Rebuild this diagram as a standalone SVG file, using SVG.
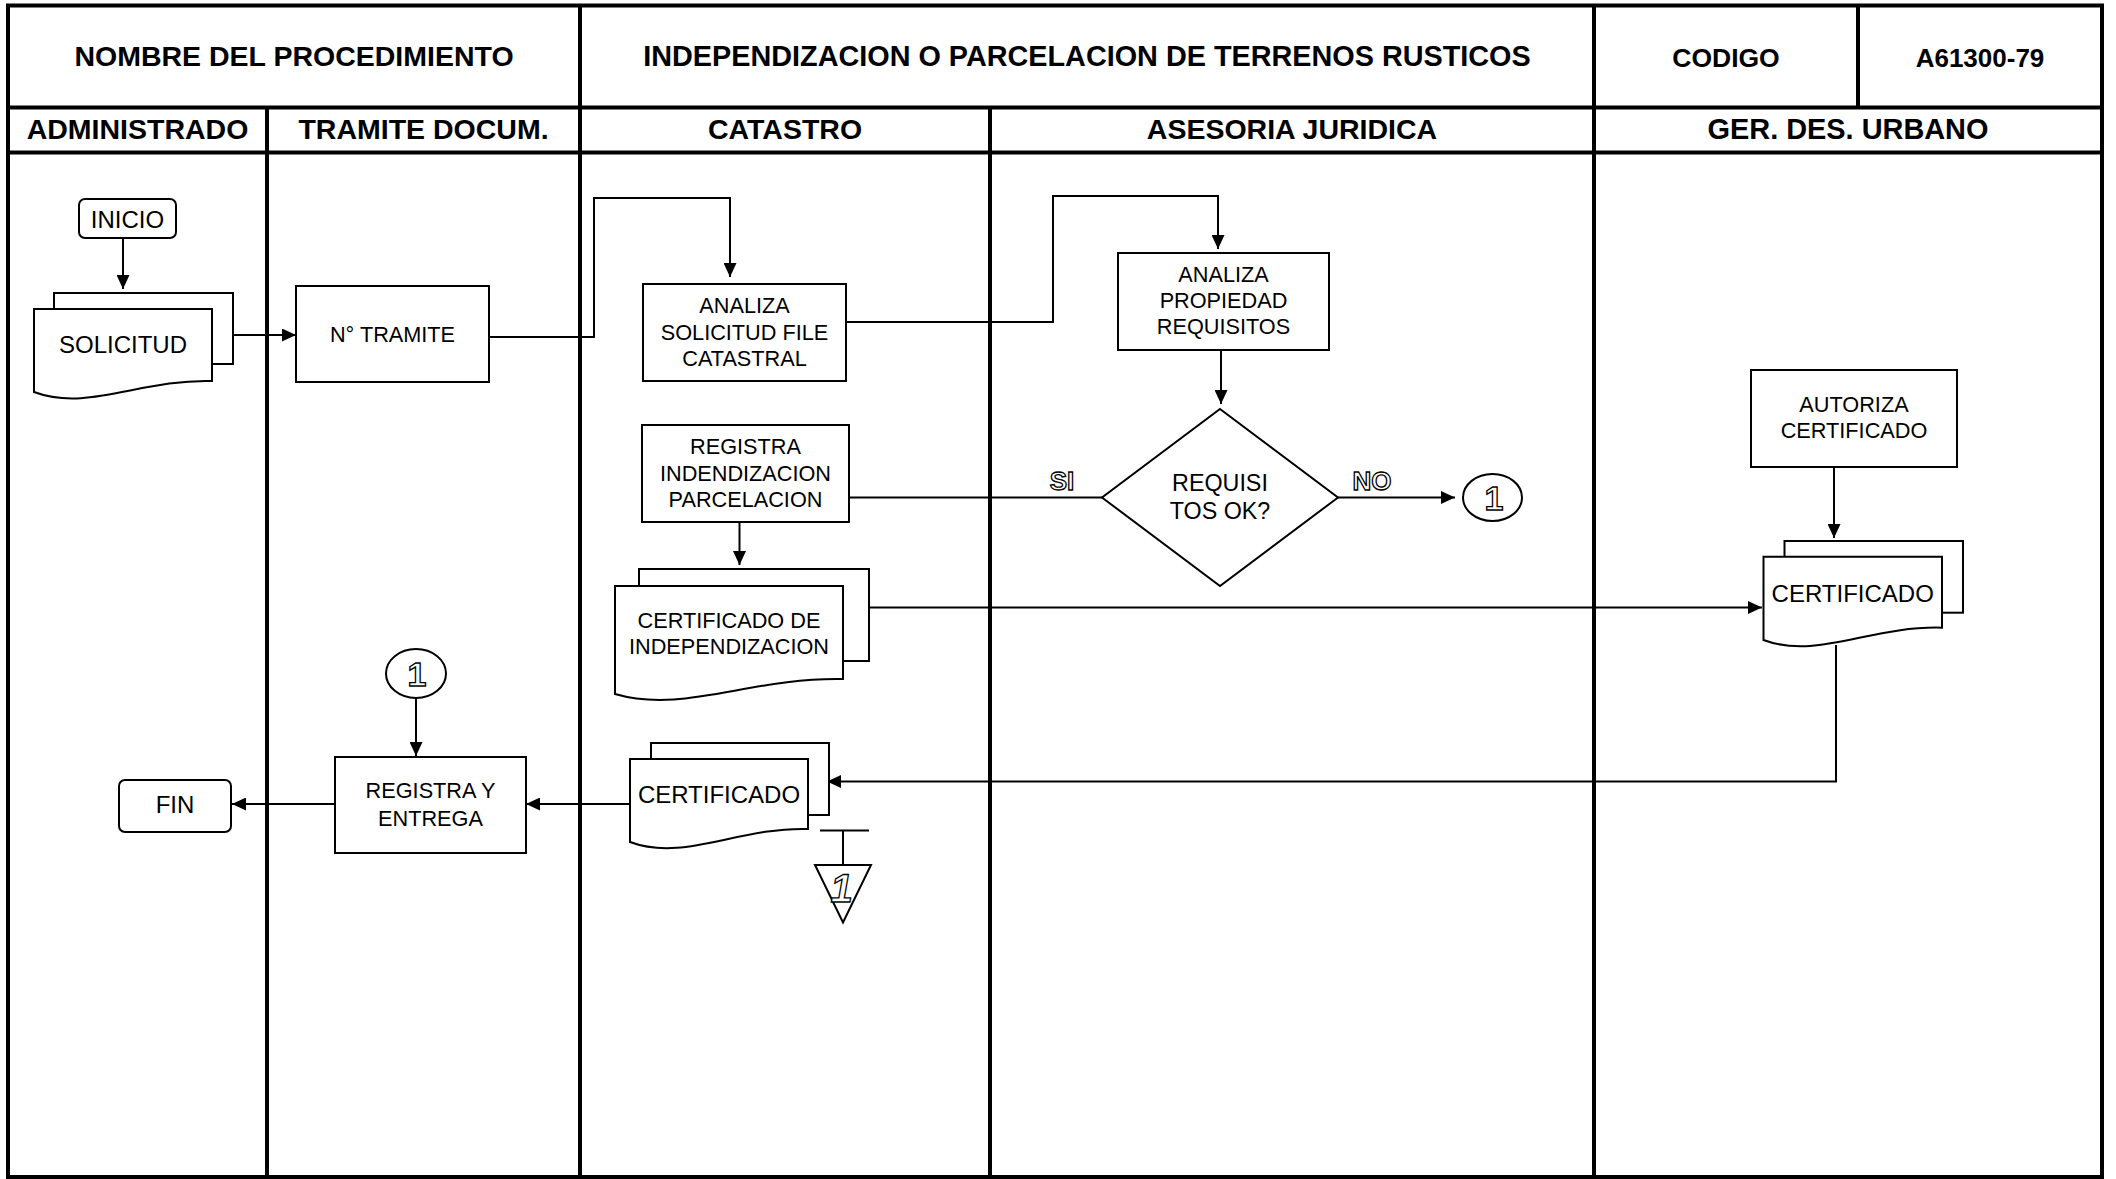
<svg xmlns="http://www.w3.org/2000/svg" width="2116" height="1179" viewBox="0 0 2116 1179">
<style>
.lane{stroke:#000;stroke-width:4;fill:none}
.hd{font-family:"Liberation Sans",Arial,sans-serif;font-weight:bold;font-size:28.5px;text-anchor:middle;fill:#000}
.box{fill:#fff;stroke:#000;stroke-width:2}
.t{font-family:"Liberation Sans",Arial,sans-serif;font-size:21.7px;text-anchor:middle;fill:#000}
.t24{font-family:"Liberation Sans",Arial,sans-serif;font-size:24px;text-anchor:middle;fill:#000}
.ol{font-family:"Liberation Sans",Arial,sans-serif;font-weight:bold;text-anchor:middle;fill:#fff;stroke:#000;stroke-width:1.3}
.c{fill:none;stroke:#000;stroke-width:2}
</style>
<defs>
<marker id="ah" markerUnits="userSpaceOnUse" markerWidth="14" markerHeight="13" refX="14" refY="6.5" orient="auto">
<path d="M0,0 L14,6.5 L0,13 Z" fill="#000"/>
</marker>
</defs>
<rect width="2116" height="1179" fill="#fff"/>
<g id="frame">
<rect class="lane" x="8" y="5.5" width="2094" height="1171.5"/>
<line class="lane" x1="8" y1="107.5" x2="2102" y2="107.5"/>
<line class="lane" x1="8" y1="152.5" x2="2102" y2="152.5"/>
<line class="lane" x1="580" y1="5.5" x2="580" y2="1177"/>
<line class="lane" x1="1594" y1="5.5" x2="1594" y2="1177"/>
<line class="lane" x1="1858" y1="5.5" x2="1858" y2="107.5"/>
<line class="lane" x1="267" y1="107.5" x2="267" y2="1177"/>
<line class="lane" x1="990" y1="107.5" x2="990" y2="1177"/>
<text class="hd" x="294" y="66">NOMBRE DEL PROCEDIMIENTO</text>
<text class="hd" x="1087" y="66" style="font-size:28.8px">INDEPENDIZACION O PARCELACION DE TERRENOS RUSTICOS</text>
<text class="hd" x="1726" y="67" style="font-size:26.5px">CODIGO</text>
<text class="hd" x="1980" y="67" style="font-size:26px">A61300-79</text>
<text class="hd" x="137.5" y="139">ADMINISTRADO</text>
<text class="hd" x="423.5" y="139">TRAMITE DOCUM.</text>
<text class="hd" x="785" y="139">CATASTRO</text>
<text class="hd" x="1292" y="139">ASESORIA JURIDICA</text>
<text class="hd" x="1848" y="139" style="font-size:28.9px">GER. DES. URBANO</text>
</g>
<g id="connectors">
<line class="c" x1="123" y1="238" x2="123" y2="289" marker-end="url(#ah)"/>
<line class="c" x1="233" y1="335" x2="296" y2="335" marker-end="url(#ah)"/>
<polyline class="c" points="489,337 594,337 594,198 730,198 730,277" marker-end="url(#ah)"/>
<polyline class="c" points="846,322 1053,322 1053,196 1218,196 1218,249" marker-end="url(#ah)"/>
<line class="c" x1="1221" y1="350" x2="1221" y2="404" marker-end="url(#ah)"/>
<line class="c" x1="849" y1="497.5" x2="1102" y2="497.5"/>
<line class="c" x1="1338" y1="497.5" x2="1455" y2="497.5" marker-end="url(#ah)"/>
<line class="c" x1="739.5" y1="522" x2="739.5" y2="565" marker-end="url(#ah)"/>
<line class="c" x1="869" y1="607.5" x2="1762" y2="607.5" marker-end="url(#ah)"/>
<line class="c" x1="1834" y1="467" x2="1834" y2="538" marker-end="url(#ah)"/>
<polyline class="c" points="1836,645 1836,781.5 827,781.5" marker-end="url(#ah)"/>
<line class="c" x1="630" y1="804" x2="526" y2="804" marker-end="url(#ah)"/>
<line class="c" x1="335" y1="804" x2="232" y2="804" marker-end="url(#ah)"/>
<line class="c" x1="416" y1="698" x2="416" y2="756" marker-end="url(#ah)"/>
<line class="c" x1="820" y1="830.5" x2="869" y2="830.5"/>
<line class="c" x1="843" y1="830.5" x2="843" y2="865"/>
</g>
<g id="inicio">
<rect class="box" x="79" y="199" width="97" height="39" rx="6"/>
<text class="t24" x="127.5" y="228">INICIO</text>
</g>
<g id="solicitud">
<rect class="box" x="54" y="293" width="179" height="71"/>
<path class="box" d="M34,309 H212 V381 C140.8,379 87.4,412 34,392 Z"/>
<text class="t24" x="123" y="353">SOLICITUD</text>
</g>
<g id="tramite">
<rect class="box" x="296" y="286" width="193" height="96"/>
<text class="t" x="392.5" y="342">N° TRAMITE</text>
</g>
<g id="analiza-solicitud">
<rect class="box" x="643" y="284" width="203" height="97"/>
<text class="t" x="744.5" y="313">ANALIZA</text>
<text class="t" x="744.5" y="340">SOLICITUD FILE</text>
<text class="t" x="744.5" y="366">CATASTRAL</text>
</g>
<g id="analiza-propiedad">
<rect class="box" x="1118" y="253" width="211" height="97"/>
<text class="t" x="1223.5" y="282">ANALIZA</text>
<text class="t" x="1223.5" y="308">PROPIEDAD</text>
<text class="t" x="1223.5" y="334">REQUISITOS</text>
</g>
<g id="registra">
<rect class="box" x="642" y="425" width="207" height="97"/>
<text class="t" x="745.5" y="454">REGISTRA</text>
<text class="t" x="745.5" y="481">INDENDIZACION</text>
<text class="t" x="745.5" y="507">PARCELACION</text>
</g>
<g id="decision">
<polygon class="box" points="1220,409 1338,497.5 1220,586 1102,497.5"/>
<text class="t24" x="1220" y="491" style="font-size:23.3px">REQUISI</text>
<text class="t24" x="1220" y="519" style="font-size:23.3px">TOS OK?</text>
<text class="ol" x="1062" y="490" style="font-size:26px">SI</text>
<text class="ol" x="1372" y="490" style="font-size:26px">NO</text>
</g>
<g id="conector-no">
<ellipse class="box" cx="1492.5" cy="497.5" rx="29.5" ry="23.5"/>
<text class="ol" x="1494" y="510" style="font-size:34px">1</text>
</g>
<g id="cert-indep">
<rect class="box" x="639" y="569" width="230" height="92"/>
<path class="box" d="M615,586 H843 V679 C751.8,677 683.4,714 615,694 Z"/>
<text class="t" x="729" y="627.5">CERTIFICADO DE</text>
<text class="t" x="729" y="654">INDEPENDIZACION</text>
</g>
<g id="autoriza">
<rect class="box" x="1751" y="370" width="206" height="97"/>
<text class="t" x="1854" y="412">AUTORIZA</text>
<text class="t" x="1854" y="438">CERTIFICADO</text>
</g>
<g id="cert-gdu">
<rect class="box" x="1784.5" y="541" width="178.5" height="71.7"/>
<path class="box" d="M1763.5,556.7 H1942 V627.7 C1870.6,625.7 1817,660 1763.5,640 Z"/>
<text class="t24" x="1852.7" y="601.5">CERTIFICADO</text>
</g>
<g id="cert-catastro">
<rect class="box" x="651" y="743" width="178" height="72"/>
<path class="box" d="M630,759 H808 V829 C737.8,827 683.4,862 630,842 Z"/>
<text class="t24" x="719" y="803">CERTIFICADO</text>
</g>
<g id="archivo">
<polygon class="box" points="815,865 871,865 843,922.5"/>
<text class="ol" x="843" y="902" style="font-size:40px" transform="skewX(-10) translate(156,0)">1</text>
</g>
<g id="conector-in">
<ellipse class="box" cx="416" cy="673.5" rx="30" ry="24.5"/>
<text class="ol" x="417" y="686" style="font-size:34px">1</text>
</g>
<g id="registra-entrega">
<rect class="box" x="335" y="757" width="191" height="96"/>
<text class="t" x="430.5" y="798">REGISTRA Y</text>
<text class="t" x="430.5" y="826">ENTREGA</text>
</g>
<g id="fin">
<rect class="box" x="119" y="780" width="112" height="52" rx="6"/>
<text class="t24" x="175" y="813">FIN</text>
</g>
</svg>
